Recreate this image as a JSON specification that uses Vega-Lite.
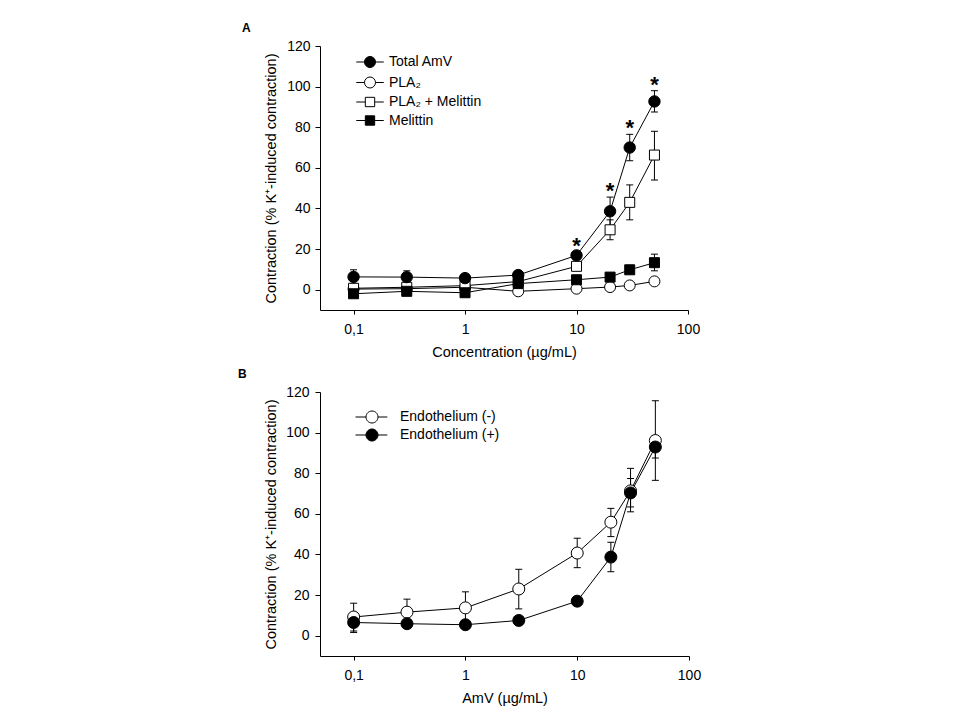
{
  "$schema": "https://vega.github.io/schema/vega-lite/v6.json",
  "background": "white",
  "padding": {"left": 238, "top": 22, "right": 10, "bottom": 5},
  "spacing": 9,
  "resolve": {"scale": {"fill": "independent"}, "legend": {"fill": "independent"}},
  "config": {
    "font": "Liberation Sans",
    "view": {"stroke": null},
    "axis": {
      "domainColor": "black", "tickColor": "black", "labelColor": "black", "titleColor": "black",
      "grid": false, "labelFont": "Liberation Sans", "titleFont": "Liberation Sans",
      "labelFontSize": 14, "titleFontSize": 14.5, "titleFontWeight": "normal"
    },
    "legend": {"labelFont": "Liberation Sans", "labelColor": "black"},
    "title": {"fontSize": 12, "fontWeight": "bold", "anchor": "start", "frame": "group", "color": "black", "font": "Liberation Sans"}
  },
  "vconcat": [
    {
      "title": {"text": "A", "dx": -78, "offset": 4},
      "width": 368,
      "height": 264,
      "data": {"values": [
        {"s": "PLA₂", "c": 0.1, "v": 0.3, "lo": -0.7, "hi": 1.3},
        {"s": "PLA₂", "c": 0.3, "v": 0.5, "lo": -0.5, "hi": 1.5},
        {"s": "PLA₂", "c": 1, "v": 1.2, "lo": 0.2, "hi": 2.2},
        {"s": "PLA₂", "c": 3, "v": -0.8, "lo": -1.8, "hi": 0.2},
        {"s": "PLA₂", "c": 10, "v": 0.5, "lo": -0.5, "hi": 1.5},
        {"s": "PLA₂", "c": 20, "v": 1.3, "lo": 0.3, "hi": 2.3},
        {"s": "PLA₂", "c": 30, "v": 2.1, "lo": 1.1, "hi": 3.1},
        {"s": "PLA₂", "c": 50, "v": 4.1, "lo": 3.1, "hi": 5.1},
        {"s": "PLA₂ + Melittin", "c": 0.1, "v": 0.7, "lo": -0.3, "hi": 1.7},
        {"s": "PLA₂ + Melittin", "c": 0.3, "v": 1.2, "lo": 0.2, "hi": 2.2},
        {"s": "PLA₂ + Melittin", "c": 1, "v": 2.0, "lo": 1.0, "hi": 3.0},
        {"s": "PLA₂ + Melittin", "c": 3, "v": 4.0, "lo": 3.0, "hi": 5.0},
        {"s": "PLA₂ + Melittin", "c": 10, "v": 11.5, "lo": 10.0, "hi": 13.0},
        {"s": "PLA₂ + Melittin", "c": 20, "v": 29.5, "lo": 24.6, "hi": 34.4},
        {"s": "PLA₂ + Melittin", "c": 30, "v": 43.0, "lo": 34.4, "hi": 51.6},
        {"s": "PLA₂ + Melittin", "c": 50, "v": 66.3, "lo": 54.0, "hi": 78.0},
        {"s": "Melittin", "c": 0.1, "v": -2.0, "lo": -3.0, "hi": -1.0},
        {"s": "Melittin", "c": 0.3, "v": -0.8, "lo": -1.8, "hi": 0.2},
        {"s": "Melittin", "c": 1, "v": -1.5, "lo": -2.5, "hi": -0.5},
        {"s": "Melittin", "c": 3, "v": 3.0, "lo": 2.0, "hi": 4.0},
        {"s": "Melittin", "c": 10, "v": 4.9, "lo": 3.9, "hi": 5.9},
        {"s": "Melittin", "c": 20, "v": 6.2, "lo": 5.0, "hi": 7.4},
        {"s": "Melittin", "c": 30, "v": 9.8, "lo": 8.0, "hi": 12.0},
        {"s": "Melittin", "c": 50, "v": 13.3, "lo": 9.3, "hi": 17.5},
        {"s": "Total AmV", "c": 0.1, "v": 6.3, "lo": 2.8, "hi": 9.8},
        {"s": "Total AmV", "c": 0.3, "v": 6.2, "lo": 3.2, "hi": 9.3},
        {"s": "Total AmV", "c": 1, "v": 5.7, "lo": 4.5, "hi": 6.9},
        {"s": "Total AmV", "c": 3, "v": 7.2, "lo": 6.0, "hi": 8.4},
        {"s": "Total AmV", "c": 10, "v": 16.9, "lo": 15.4, "hi": 18.6, "star": "*"},
        {"s": "Total AmV", "c": 20, "v": 38.6, "lo": 31.6, "hi": 45.6, "star": "*"},
        {"s": "Total AmV", "c": 30, "v": 70.0, "lo": 63.5, "hi": 76.5, "star": "*"},
        {"s": "Total AmV", "c": 50, "v": 92.7, "lo": 87.5, "hi": 98.0, "star": "*"}
      ]},
      "encoding": {
        "x": {"field": "c", "type": "quantitative",
          "scale": {"type": "log", "domain": [0.05, 100], "nice": false},
          "axis": {"values": [0.1, 1, 10, 100], "labelExpr": "replace(format(datum.value, '~g'), '.', ',')",
            "tickSize": 4, "labelPadding": 8, "title": "Concentration (µg/mL)", "titlePadding": 9, "labelFlush": false}}
      },
      "layer": [
        {"mark": {"type": "rule", "color": "black", "strokeWidth": 1},
          "encoding": {"y": {"field": "lo", "type": "quantitative", "scale": {"domain": [-10, 120], "nice": false},
              "axis": {"values": [0, 20, 40, 60, 80, 100, 120], "tickSize": 5, "labelPadding": 5,
                "title": "Contraction (% K⁺-induced contraction)", "titlePadding": 8}}, "y2": {"field": "hi"}}},
        {"mark": {"type": "tick", "orient": "horizontal", "size": 7, "thickness": 1, "color": "black", "opacity": 1},
          "encoding": {"y": {"field": "lo", "type": "quantitative"}}},
        {"mark": {"type": "tick", "orient": "horizontal", "size": 7, "thickness": 1, "color": "black", "opacity": 1},
          "encoding": {"y": {"field": "hi", "type": "quantitative"}}},
        {"mark": {"type": "line", "color": "black", "strokeWidth": 1},
          "encoding": {"y": {"field": "v", "type": "quantitative"}, "detail": {"field": "s"}}},
        {"transform": [{"filter": "datum.s == 'PLA₂'"}],
          "mark": {"type": "point", "filled": true, "shape": "circle", "size": 121, "stroke": "black", "strokeWidth": 1, "opacity": 1},
          "encoding": {
            "y": {"field": "v", "type": "quantitative"},
            "fill": {"field": "s", "type": "nominal",
              "scale": {"domain": ["Total AmV", "PLA₂", "PLA₂ + Melittin", "Melittin"], "range": ["black", "white", "white", "black"]},
              "legend": {"orient": "none", "legendX": 43, "legendY": 9, "title": null, "symbolSize": 121, "labelOffset": 12, "rowPadding": 4.5, "labelFontSize": 14, "symbolStrokeColor": "black", "symbolStrokeWidth": 1, "padding": 0,
                "symbolType": {"expr": "(datum.value == 'Total AmV' || datum.value == 'PLA₂') ? 'M-2.5,0H-1M1,0H2.5M-1,0A1,1 0 1,0 1,0A1,1 0 1,0 -1,0Z' : 'M-2.5,0H-0.85M0.85,0H2.5M-0.85,-0.85H0.85V0.85H-0.85Z'"}}}
          }},
        {"transform": [{"filter": "datum.s == 'PLA₂ + Melittin' || datum.s == 'Melittin'"}],
          "mark": {"type": "point", "filled": true, "shape": "square", "size": 100, "stroke": "black", "strokeWidth": 1, "opacity": 1},
          "encoding": {
            "y": {"field": "v", "type": "quantitative"},
            "fill": {"field": "s", "type": "nominal"}
          }},
        {"transform": [{"filter": "datum.s == 'Total AmV'"}],
          "mark": {"type": "point", "filled": true, "shape": "circle", "size": 130, "stroke": "black", "strokeWidth": 1, "opacity": 1},
          "encoding": {
            "y": {"field": "v", "type": "quantitative"},
            "fill": {"field": "s", "type": "nominal"}
          }},
        {"transform": [{"filter": "datum.star == '*'"}],
          "mark": {"type": "text", "fontSize": 22, "fontWeight": "bold", "baseline": "alphabetic", "align": "center", "dy": 1, "color": "black"},
          "encoding": {"y": {"field": "hi", "type": "quantitative"}, "text": {"field": "star"}}}
      ]
    },
    {
      "title": {"text": "B", "dx": -82, "offset": 4},
      "width": 369,
      "height": 264,
      "data": {"values": [
        {"s": "Endothelium (-)", "c": 0.1, "v": 9.2, "lo": 2.3, "hi": 16.0},
        {"s": "Endothelium (-)", "c": 0.3, "v": 11.6, "lo": 5.2, "hi": 18.0},
        {"s": "Endothelium (-)", "c": 1, "v": 13.7, "lo": 5.8, "hi": 21.6},
        {"s": "Endothelium (-)", "c": 3, "v": 23.0, "lo": 13.2, "hi": 32.7},
        {"s": "Endothelium (-)", "c": 10, "v": 40.7, "lo": 33.5, "hi": 48.0},
        {"s": "Endothelium (-)", "c": 20, "v": 55.9, "lo": 48.8, "hi": 62.7},
        {"s": "Endothelium (-)", "c": 30, "v": 71.3, "lo": 61.0, "hi": 82.4},
        {"s": "Endothelium (-)", "c": 50, "v": 96.1, "lo": 76.5, "hi": 115.7},
        {"s": "Endothelium (+)", "c": 0.1, "v": 6.5, "lo": 1.6, "hi": 11.4},
        {"s": "Endothelium (+)", "c": 0.3, "v": 5.9, "lo": 4.5, "hi": 7.3},
        {"s": "Endothelium (+)", "c": 1, "v": 5.4, "lo": 4.0, "hi": 6.8},
        {"s": "Endothelium (+)", "c": 3, "v": 7.5, "lo": 6.0, "hi": 9.0},
        {"s": "Endothelium (+)", "c": 10, "v": 17.0, "lo": 15.8, "hi": 18.2},
        {"s": "Endothelium (+)", "c": 20, "v": 38.7, "lo": 31.5, "hi": 46.0},
        {"s": "Endothelium (+)", "c": 30, "v": 70.3, "lo": 63.4, "hi": 77.4},
        {"s": "Endothelium (+)", "c": 50, "v": 92.9, "lo": 87.5, "hi": 98.3}
      ]},
      "encoding": {
        "x": {"field": "c", "type": "quantitative",
          "scale": {"type": "log", "domain": [0.05, 100], "nice": false},
          "axis": {"values": [0.1, 1, 10, 100], "labelExpr": "replace(format(datum.value, '~g'), '.', ',')",
            "tickSize": 4, "labelPadding": 8, "title": "AmV (µg/mL)", "titlePadding": 9, "labelFlush": false}}
      },
      "layer": [
        {"mark": {"type": "rule", "color": "black", "strokeWidth": 1},
          "encoding": {"y": {"field": "lo", "type": "quantitative", "scale": {"domain": [-10, 120], "nice": false}}, "y2": {"field": "hi"}}},
        {"mark": {"type": "tick", "orient": "horizontal", "size": 7, "thickness": 1, "color": "black", "opacity": 1},
          "encoding": {"y": {"field": "lo", "type": "quantitative"}}},
        {"mark": {"type": "tick", "orient": "horizontal", "size": 7, "thickness": 1, "color": "black", "opacity": 1},
          "encoding": {"y": {"field": "hi", "type": "quantitative"}}},
        {"mark": {"type": "line", "color": "black", "strokeWidth": 1},
          "encoding": {"y": {"field": "v", "type": "quantitative"}, "detail": {"field": "s"}}},
        {"mark": {"type": "point", "filled": true, "shape": "circle", "size": 144, "stroke": "black", "strokeWidth": 1, "opacity": 1},
          "encoding": {
            "y": {"field": "v", "type": "quantitative",
              "axis": {"values": [0, 20, 40, 60, 80, 100, 120], "tickSize": 5, "labelPadding": 6,
                "title": "Contraction (% K⁺-induced contraction)", "titlePadding": 7}},
            "fill": {"field": "s", "type": "nominal",
              "scale": {"domain": ["Endothelium (-)", "Endothelium (+)"], "range": ["white", "black"]},
              "legend": {"orient": "none", "legendX": 45, "legendY": 18, "title": null, "symbolSize": 144, "labelOffset": 21, "rowPadding": 2, "labelFontSize": 14, "symbolStrokeColor": "black", "symbolStrokeWidth": 1, "padding": 0,
                "symbolType": "M-2.75,0H-1M1,0H2.55M-1,0A1,1 0 1,0 1,0A1,1 0 1,0 -1,0Z"}}
          }}
      ]
    }
  ]
}
